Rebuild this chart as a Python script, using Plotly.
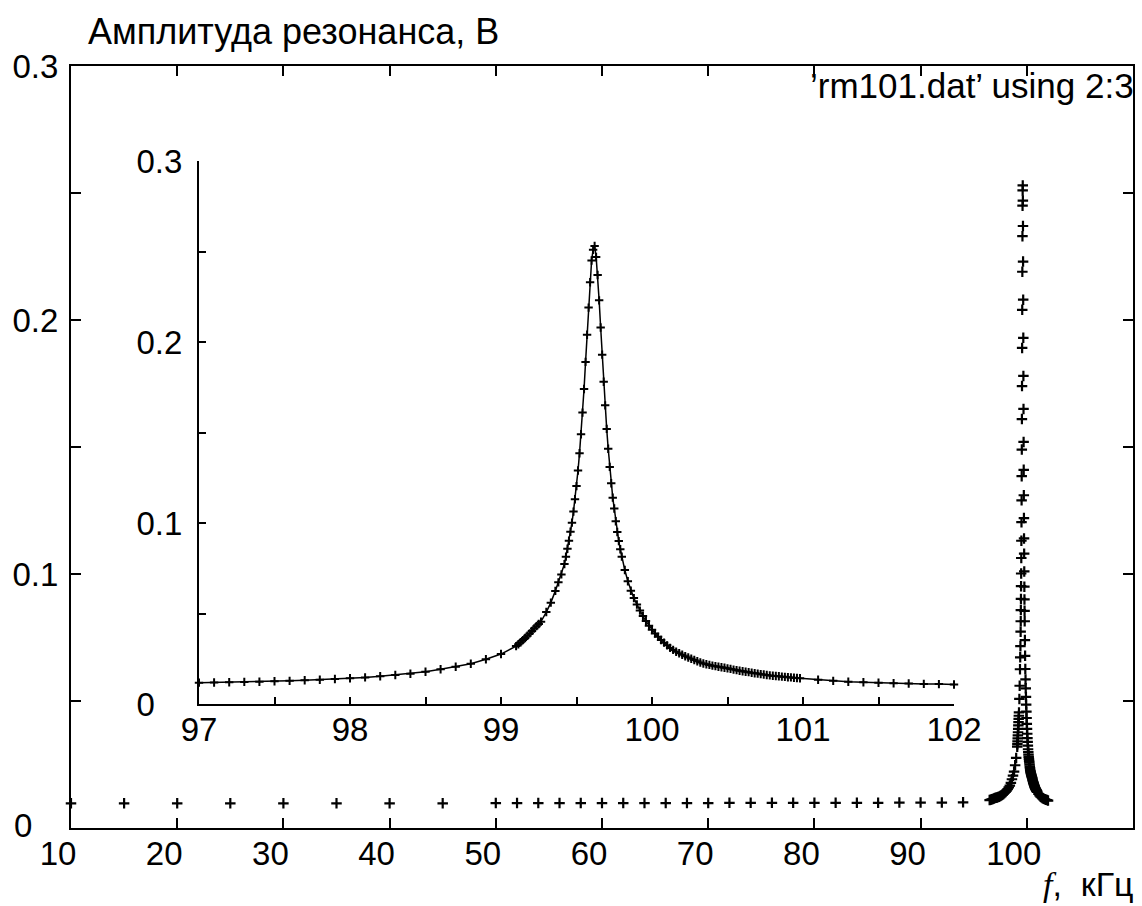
import plotly.graph_objects as go

# Wide sweep, far below resonance (kHz, V)
freq_wide = [10, 15, 20, 25, 30, 35, 40, 45,
             50, 52, 54, 56, 58, 60, 62, 64, 66, 68, 70, 72,
             74, 76, 78, 80, 82, 84, 86, 88, 90, 92, 94]
amp_wide = [0.0097, 0.0097, 0.0097, 0.0097, 0.0097, 0.0097, 0.0097, 0.0097,
            0.0098, 0.0098, 0.0098, 0.0098, 0.0098, 0.0098, 0.0098, 0.0098,
            0.0098, 0.0098, 0.0098, 0.0099, 0.0099, 0.0099, 0.0099, 0.0099,
            0.0099, 0.0099, 0.0099, 0.0100, 0.0100, 0.0100, 0.0101]

# Fine sweep around the resonance (kHz, V)
freq_fine = [
    96.5, 96.6, 96.7, 96.8, 96.9, 97.0, 97.1, 97.2, 97.3, 97.4,
    97.5, 97.6, 97.7, 97.8, 97.9, 98.0, 98.1, 98.2, 98.3, 98.4,
    98.5, 98.6, 98.7, 98.8, 98.9, 99.0,
    99.10, 99.115, 99.13, 99.145, 99.16, 99.175, 99.19, 99.205,
    99.22, 99.235, 99.25, 99.265,
    99.30, 99.33, 99.36, 99.38, 99.40, 99.42, 99.43, 99.44, 99.45, 99.46,
    99.47, 99.48, 99.49, 99.50, 99.51, 99.52, 99.53, 99.54, 99.55, 99.56,
    99.57, 99.58, 99.59, 99.60, 99.61, 99.62,
    99.63, 99.64, 99.65, 99.66, 99.67, 99.68, 99.69, 99.70, 99.71, 99.72,
    99.73, 99.74, 99.75, 99.76, 99.77, 99.78, 99.79, 99.80, 99.82,
    99.84, 99.86, 99.88, 99.90, 99.92, 99.94, 99.96, 99.98, 100.00, 100.02,
    100.04, 100.06, 100.08, 100.10, 100.12, 100.14, 100.16, 100.18, 100.20, 100.22,
    100.24, 100.26, 100.28, 100.30, 100.32, 100.34, 100.36, 100.38, 100.40, 100.42,
    100.44, 100.46, 100.48, 100.50, 100.52, 100.54, 100.56, 100.58, 100.60, 100.62,
    100.64, 100.66, 100.68, 100.70, 100.72, 100.74, 100.76, 100.78, 100.80, 100.82,
    100.84, 100.86, 100.88, 100.90, 100.92, 100.94, 100.96, 100.98,
    101.1, 101.2, 101.3, 101.4, 101.5, 101.6, 101.7, 101.8, 101.9, 102.0,
]
amp_fine = [
    0.0110, 0.0111, 0.0113, 0.0114, 0.0116, 0.0118, 0.0119, 0.0120, 0.0122, 0.0123,
    0.0126, 0.0128, 0.0131, 0.0134, 0.0138, 0.0142, 0.0147, 0.0153, 0.0160, 0.0167,
    0.0178, 0.0192, 0.0206, 0.0222, 0.0247, 0.0276,
    0.0320, 0.0330, 0.0341, 0.0353, 0.0365, 0.0377, 0.0390, 0.0404,
    0.0417, 0.0430, 0.0442, 0.0455,
    0.0508, 0.0560, 0.0625, 0.0672, 0.0716, 0.0773, 0.0814, 0.0858, 0.0902, 0.0952,
    0.1002, 0.1063, 0.1131, 0.1204, 0.1290, 0.1385, 0.1490, 0.1610, 0.1740, 0.1890,
    0.2040, 0.2190, 0.2330, 0.2450, 0.2510, 0.2530,
    0.2470, 0.2370, 0.2230, 0.2080, 0.1930, 0.1780, 0.1650, 0.1520, 0.1410, 0.1310,
    0.1220, 0.1140, 0.1080, 0.1010, 0.0950, 0.0900, 0.0855, 0.0814, 0.0740,
    0.0678, 0.0626, 0.0585, 0.0550, 0.0516, 0.0486, 0.0458, 0.0433, 0.0410, 0.0390,
    0.0371, 0.0354, 0.0339, 0.0324, 0.0310, 0.0299, 0.0289, 0.0280, 0.0272, 0.0264,
    0.0257, 0.0250, 0.0243, 0.0236, 0.0229, 0.0224, 0.0220, 0.0216, 0.0212, 0.0209,
    0.0206, 0.0203, 0.0200, 0.0197, 0.0194, 0.0190, 0.0187, 0.0184, 0.0181, 0.0178,
    0.0176, 0.0173, 0.0170, 0.0168, 0.0165, 0.0163, 0.0160, 0.0158, 0.0156, 0.0155,
    0.0153, 0.0151, 0.0150, 0.0148, 0.0147, 0.0145, 0.0144, 0.0142,
    0.0134, 0.0128, 0.0123, 0.0120, 0.0117, 0.0115, 0.0113, 0.0111, 0.0110, 0.0108,
]

main_xticks = [10, 20, 30, 40, 50, 60, 70, 80, 90, 100]
amp_ticks = [0, 0.05, 0.1, 0.15, 0.2, 0.25, 0.3]
# main "0" label is placed separately, left-aligned with the other labels
main_amp_ticktext = ["", "", "0.1", "", "0.2", "", "0.3"]
# "0" is padded so that all amplitude labels start at the same left edge
inset_amp_ticktext = ["0&nbsp;&nbsp;&nbsp;", "", "0.1", "", "0.2", "", "0.3"]
inset_xticks = [97, 97.5, 98, 98.5, 99, 99.5, 100, 100.5, 101, 101.5, 102]
inset_xticktext = ["97", "", "98", "", "99", "", "100", "", "101", "", "102"]
inset_range = (97, 102)

FONT = "Liberation Sans"
FS = 33
W, H = 1142, 906
L, R, T, B = 71, 9, 66, 78
PW, PH = W - L - R, H - T - B


def px(x):
    return (x - L) / PW


def py(y):
    return (H - B - y) / PH


# Inset uses the part of the fine sweep inside its frequency window
inset_f = [f for f in freq_fine if inset_range[0] <= f <= inset_range[1]]
inset_a = [a for f, a in zip(freq_fine, amp_fine) if inset_range[0] <= f <= inset_range[1]]

fig = go.Figure()
fig.add_trace(go.Scatter(
    x=freq_wide + freq_fine, y=amp_wide + amp_fine,
    mode="markers", cliponaxis=False, showlegend=False,
    marker=dict(symbol="cross-thin", size=7.5, color="black",
                line=dict(width=2.2, color="black")),
    xaxis="x", yaxis="y",
))
fig.add_trace(go.Scatter(
    x=inset_f, y=inset_a,
    mode="lines+markers", cliponaxis=False, showlegend=False,
    line=dict(color="black", width=1.5),
    marker=dict(symbol="cross-thin", size=6, color="black",
                line=dict(width=2, color="black")),
    xaxis="x2", yaxis="y2",
))

axis_common = dict(
    showline=True, linecolor="black", linewidth=2,
    ticks="inside", tickcolor="black", tickwidth=2,
    showgrid=False, zeroline=False, automargin=False,
    tickfont=dict(family=FONT, size=FS, color="black"),
)

fig.update_layout(
    width=W, height=H, autosize=False,
    margin=dict(l=L, r=R, t=T, b=B, pad=0, autoexpand=False),
    paper_bgcolor="white", plot_bgcolor="white",
    font=dict(family=FONT, size=FS, color="black"),
    xaxis=dict(domain=[0, 1], range=[10, 110], tickvals=main_xticks,
               ticklen=10, mirror="ticks", ticklabelstandoff=-5,
               ticklabelshift=-13, **axis_common),
    yaxis=dict(domain=[0, 1], range=[0, 0.3], tickvals=amp_ticks,
               ticktext=main_amp_ticktext, ticklen=10, mirror="ticks",
               ticklabelstandoff=4, **axis_common),
    xaxis2=dict(anchor="y2", domain=[px(199), px(954)], range=list(inset_range),
                tickvals=inset_xticks, ticktext=inset_xticktext,
                ticklen=7, ticklabelstandoff=-5, **axis_common),
    yaxis2=dict(anchor="x2", domain=[py(704), py(161)], range=[0, 0.3],
                tickvals=amp_ticks, ticktext=inset_amp_ticktext,
                ticklen=7, ticklabelstandoff=8, **axis_common),
    annotations=[
        dict(text="0", xref="paper", yref="y",
             x=px(12), y=amp_ticks[0], xanchor="left", yanchor="middle",
             yshift=3, showarrow=False,
             font=dict(family=FONT, size=FS, color="black")),
        dict(text="Амплитуда резонанса, В", xref="paper", yref="paper",
             x=px(86), y=py(31), xanchor="left", yanchor="middle",
             showarrow=False, font=dict(family=FONT, size=36, color="black")),
        dict(text="’rm101.dat’ using 2:3", xref="paper", yref="paper",
             x=px(1136), y=py(85), xanchor="right", yanchor="middle",
             showarrow=False, font=dict(family=FONT, size=35, color="black")),
        dict(text="<span style='font-family:Liberation Serif'><i>f</i></span>,&nbsp;&nbsp;кГц",
             xref="paper", yref="paper",
             x=px(1136), y=py(905), xanchor="right", yanchor="bottom",
             showarrow=False, font=dict(family=FONT, size=34, color="black")),
    ],
)

fig.write_html("out.html")
